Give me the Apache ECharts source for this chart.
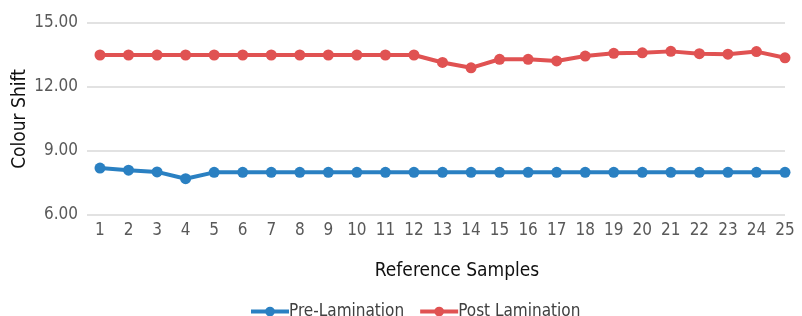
<!DOCTYPE html>
<html><head><meta charset="utf-8">
<script src="https://cdn.jsdelivr.net/npm/echarts@6/dist/echarts.min.js"></script>
<style>html,body{margin:0;padding:0;background:#fff}#c{width:802px;height:316px}</style>
</head><body><div id="c"></div>
<script>
const categories = [1,2,3,4,5,6,7,8,9,10,11,12,13,14,15,16,17,18,19,20,21,22,23,24,25];
const preLamination = [8.2,8.1,8.02,7.7,8.0,8.0,8.0,8.0,8.0,8.0,8.0,8.0,8.0,8.0,8.0,8.0,8.0,8.0,8.0,8.0,8.0,8.0,8.0,8.0,8.0];
const postLamination = [13.5,13.5,13.5,13.5,13.5,13.5,13.5,13.5,13.5,13.5,13.5,13.5,13.15,12.9,13.3,13.3,13.22,13.45,13.58,13.6,13.67,13.56,13.54,13.66,13.37];
const yTicks = [6,9,12,15];
const seriesNames = ['Pre-Lamination','Post Lamination'];

const FONT = '"DejaVu Sans Condensed", "DejaVu Sans", sans-serif';
const chart = echarts.init(document.getElementById('c'));
const mk = (name, vals, color) => ({
  name, type: 'line', data: categories.map((c, i) => [c, vals[i]]),
  symbol: 'circle', symbolSize: 11, itemStyle: {color},
  lineStyle: {color, width: 4}, animation: false
});
chart.setOption({
  animation: false,
  textStyle: {fontFamily: FONT},
  grid: {left: 87, right: 17, top: 23, bottom: 101, containLabel: false, outerBoundsMode: 'none'},
  xAxis: {
    type: 'value', min: 0.545, max: 25,
    name: 'Reference Samples', nameLocation: 'middle', nameGap: 47,
    nameTextStyle: {color: '#111', fontSize: 19, fontWeight: 500, fontFamily: FONT, padding: [0,0,0,42]},
    axisLine: {show: false}, axisTick: {show: false}, splitLine: {show: false},
    axisLabel: {customValues: categories, color: '#595959', fontSize: 17, margin: 7, fontFamily: FONT}
  },
  yAxis: {
    type: 'value', min: yTicks[0], max: yTicks[yTicks.length-1], interval: 3,
    name: 'Colour Shift', nameLocation: 'middle', nameGap: 57, nameRotate: 90, nameMoveOverlap: false,
    nameTextStyle: {color: '#111', fontSize: 19, fontWeight: 500, fontFamily: FONT},
    axisLine: {show: false}, axisTick: {show: false},
    splitLine: {lineStyle: {color: '#d9d9d9', width: 1.5}},
    axisLabel: {formatter: v => v.toFixed(2), color: '#595959', fontSize: 17, margin: 9, fontFamily: FONT}
  },
  legend: {
    bottom: -9, left: 244, itemGap: 14, itemWidth: 38, itemHeight: 12,
    lineStyle: {width: 4},
    textStyle: {color: '#404040', fontSize: 17, fontFamily: FONT, padding: [0,0,0,-5]},
    data: seriesNames
  },
  series: [mk(seriesNames[0], preLamination, '#2a80c2'), mk(seriesNames[1], postLamination, '#e05252')]
});
</script></body></html>
